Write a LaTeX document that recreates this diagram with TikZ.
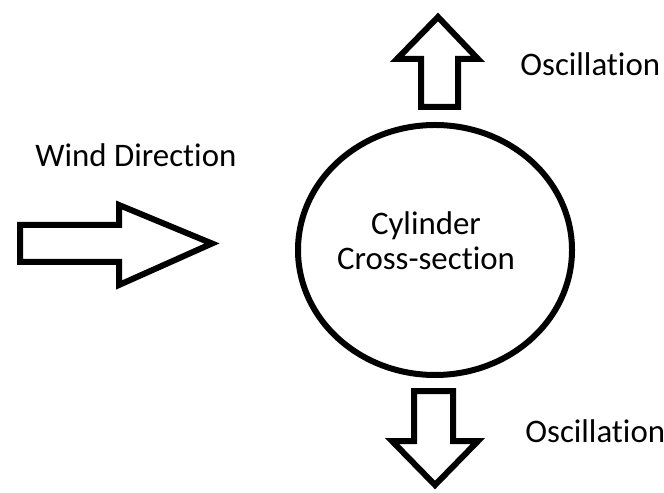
\documentclass[tikz,border=0pt]{standalone}
\usepackage{fontspec}
\setmainfont{Carlito}[Ligatures=NoCommon]
\usetikzlibrary{shapes.geometric}
\begin{document}
\begin{tikzpicture}[x=0.5bp, y=-0.5bp, font=\fontsize{16.5}{17.5}\selectfont, line join=miter, line cap=butt]
	% Styles
	\tikzset{blockarrow/.style={draw=black, line width=3bp, fill=white},
		lbl/.style={inner sep=0pt, anchor=base west}}
	\useasboundingbox (0,0) rectangle (664,493);
	
	% Cylinder cross-section
	\node[ellipse, draw, line width=3bp, minimum width=137bp, minimum height=125bp, inner sep=0pt] (cyl) at (435,250) {};
	\node[inner sep=0pt, anchor=base] (cyltop) at (426,235) {Cylinder};
	\node[inner sep=0pt, anchor=base] (cylbot) at (426,270) {Cross-section};
	
	% Wind arrow
	\draw[blockarrow] (20,225)--(119,225)--(119,205)--(212,243.5)--(119,285)--(119,262)--(20,262)--cycle;
	\node[lbl] (wind) at (35,167) {Wind Direction};
	
	% Oscillation arrows
	\draw[blockarrow] (421,107)--(421,59)--(397,59)--(438,17)--(478,59)--(458,59)--(458,107)--cycle;
	\draw[blockarrow] (414,391)--(453,391)--(453,441)--(478,441)--(435,485)--(392,441)--(414,441)--cycle;
	\node[lbl] (oscup) at (520,76) {Oscillation};
	\node[lbl] (oscdown) at (525,442) {Oscillation};
\end{tikzpicture}
\end{document}
